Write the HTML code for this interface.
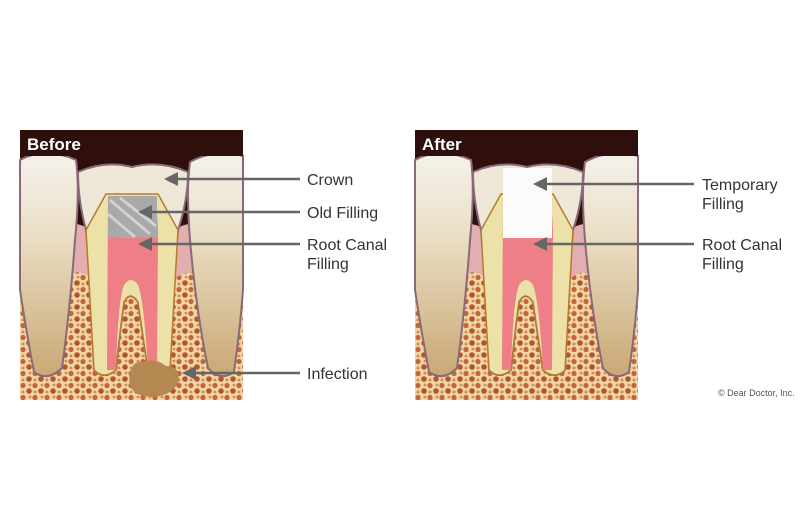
<!DOCTYPE html>
<html><head><meta charset="utf-8"><style>
html,body{margin:0;padding:0;background:#fff;width:810px;height:530px;overflow:hidden}
svg{display:block}
text{font-family:"Liberation Sans",sans-serif}
</style></head><body>
<svg width="810" height="530" viewBox="0 0 810 530">
<defs>
<pattern id="bone" width="12" height="12" patternUnits="userSpaceOnUse">
<rect width="12" height="12" fill="#efd6a4"/>
<circle cx="3" cy="3.5" r="2.6" fill="#c4643a"/>
<circle cx="9" cy="9" r="2.8" fill="#b55530"/>
<circle cx="10" cy="3" r="1.4" fill="#d58a55"/>
<circle cx="3" cy="10" r="1.5" fill="#d58a55"/>
</pattern>
<linearGradient id="tooth" x1="0" y1="0" x2="0" y2="1">
<stop offset="0" stop-color="#f5f2eb"/><stop offset="0.35" stop-color="#ebe0c8"/><stop offset="1" stop-color="#c9a874"/>
</linearGradient>
<g id="base">
<rect x="0" y="0" width="223" height="270" fill="url(#bone)"/>
<rect x="0" y="0" width="223" height="100" fill="#2e0f0c"/>
<path d="M36 100 Q55 88 70 100 L72 150 Q60 135 40 150Z" fill="#e3aeb0"/>
<path d="M155 100 Q170 88 188 100 L185 150 Q170 135 153 150Z" fill="#e3aeb0"/>
<path d="M0 30 Q25 16 56 30 Q60 60 55 110 Q50 180 42 238 Q28 252 14 242 Q6 200 0 160Z" fill="url(#tooth)" stroke="#8a6a7a" stroke-width="2"/>
<path d="M223 26 Q195 18 170 32 Q166 60 170 110 Q176 180 188 238 Q200 252 214 242 Q220 200 223 160Z" fill="url(#tooth)" stroke="#8a6a7a" stroke-width="2"/>
<path d="M58 42 Q85 30 112 37 Q140 30 168 42 Q168 70 158 100 L154 140 L150 240 Q140 250 128 240 Q122 200 118 172 Q110 160 104 172 Q100 200 96 240 Q84 250 74 240 L70 140 L66 100 Q58 70 58 42Z" fill="#efe8d8" stroke="#8a6a7a" stroke-width="2"/>
<path d="M86 64 L138 64 L158 100 L150 240 Q140 250 128 240 Q122 200 118 172 Q110 160 104 172 Q100 200 96 240 Q84 250 74 240 L66 100Z" fill="#ece1a8" stroke="#b87a2a" stroke-width="1.5"/>
<path d="M88 66 L136 66 L138 100 L137 240 L128 240 Q124 170 118 155 Q111 145 104 155 Q98 170 96 240 L87 240Z" fill="#ef7f86"/>
</g>
</defs>

<g transform="translate(20,130)">
<use href="#base"/>
<rect x="88" y="66" width="49" height="42" fill="#a9a9a9"/>
<path d="M90 70 L130 104 M100 68 L136 96 M88 84 L115 107" stroke="#d2d2d2" stroke-width="3"/>
<path d="M124 232 Q112 230 110 244 Q106 262 124 266 Q146 270 158 254 Q162 236 146 236 Q136 228 124 232Z" fill="#b48850"/>
<rect x="0" y="0" width="223" height="26" fill="#2e0f0c"/>
<text x="7" y="20" font-size="17" font-weight="bold" fill="#fff">Before</text>
</g>

<g transform="translate(415,130)">
<use href="#base"/>
<rect x="88" y="38" width="49" height="70" fill="#fbfbfb"/>
<rect x="0" y="0" width="223" height="26" fill="#2e0f0c"/>
<text x="7" y="20" font-size="17" font-weight="bold" fill="#fff">After</text>
</g>

<g stroke="#666" stroke-width="2.5" fill="#666">
<line x1="300" y1="179" x2="176" y2="179"/><polygon points="164,179 178,172 178,186" stroke="none"/>
<line x1="300" y1="212" x2="150" y2="212"/><polygon points="138,212 152,205 152,219" stroke="none"/>
<line x1="300" y1="244" x2="150" y2="244"/><polygon points="138,244 152,237 152,251" stroke="none"/>
<line x1="300" y1="373" x2="194" y2="373"/><polygon points="182,373 196,366 196,380" stroke="none"/>
<line x1="694" y1="184" x2="545" y2="184"/><polygon points="533,184 547,177 547,191" stroke="none"/>
<line x1="694" y1="244" x2="545" y2="244"/><polygon points="533,244 547,237 547,251" stroke="none"/>
</g>
<g font-size="16" fill="#333">
<text x="307" y="185">Crown</text>
<text x="307" y="218">Old Filling</text>
<text x="307" y="250">Root Canal</text>
<text x="307" y="269">Filling</text>
<text x="307" y="379">Infection</text>
<text x="702" y="190">Temporary</text>
<text x="702" y="209">Filling</text>
<text x="702" y="250">Root Canal</text>
<text x="702" y="269">Filling</text>
</g>
<text x="718" y="396" font-size="9" fill="#555">© Dear Doctor, Inc.</text>
</svg>
</body></html>
